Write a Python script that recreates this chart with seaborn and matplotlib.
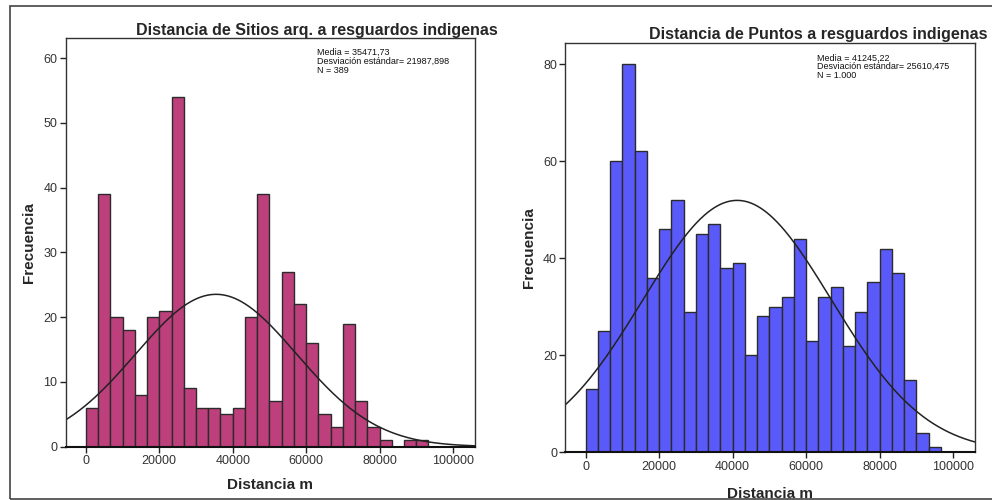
import numpy as np
import pandas as pd
import matplotlib
matplotlib.use("Agg")
import matplotlib.pyplot as plt
import seaborn as sns

sns.set_theme(style="ticks")
plt.rcParams['font.family'] = ['Liberation Sans', 'DejaVu Sans']

# Histogram bin width (m) shared by both panels
bin_width = 100000 / 30

# Sites: frequency per distance bin, starting at 0 m
sitios_counts = [6, 39, 20, 18, 8, 20, 21, 54, 9, 6, 6, 5, 6, 20, 39,
                 7, 27, 22, 16, 5, 3, 19, 7, 3, 1, 0, 1, 1]
sitios_mean = 35471.73
sitios_std = 21987.898
sitios_n = 389

# Random points: frequency per distance bin, starting at 0 m
puntos_counts = [13, 25, 60, 80, 62, 36, 46, 52, 29, 45, 47, 38, 39, 20, 28,
                 30, 32, 44, 23, 32, 34, 22, 29, 35, 42, 37, 15, 4, 1]
puntos_mean = 41245.22
puntos_std = 25610.475
puntos_n = 1000

titles = ["Distancia de Sitios arq. a resguardos indigenas",
          "Distancia de Puntos a resguardos indigenas"]
stats_text = ["Media = 35471,73\nDesviación estándar= 21987,898\nN = 389",
              "Media = 41245,22\nDesviación estándar= 25610,475\nN = 1.000"]
x_ticks = [0, 20000, 40000, 60000, 80000, 100000]
y_ticks = [[0, 10, 20, 30, 40, 50, 60], [0, 20, 40, 60, 80]]
y_tops = [63.1, 84.3]
colors = ["#BD3F7C", "#5A5AFA"]

fig = plt.figure(figsize=(9.92, 5.0), dpi=100)

# Outer frame around the whole figure
frame = plt.Rectangle((0.010, 0.003), 1.2, 0.985, transform=fig.transFigure,
                      fill=False, edgecolor="#444444", linewidth=1.2)
fig.patches.append(frame)

axes = [fig.add_axes([0.0662, 0.1066, 0.4126, 0.8174]),
        fig.add_axes([0.5700, 0.0954, 0.4129, 0.8180])]

panels = [(sitios_counts, sitios_mean, sitios_std, sitios_n),
          (puntos_counts, puntos_mean, puntos_std, puntos_n)]

for i, (ax, (counts, mean, std, n)) in enumerate(zip(axes, panels)):
    edges = [k * bin_width for k in range(len(counts) + 1)]
    centers = [(edges[k] + edges[k + 1]) / 2 for k in range(len(counts))]
    df = pd.DataFrame({"dist": centers, "freq": counts})
    sns.histplot(data=df, x="dist", weights="freq", bins=edges, ax=ax,
                 color=colors[i], alpha=1.0, edgecolor="#2b2b2b",
                 linewidth=1.0)

    # Fitted normal curve scaled to frequency
    xs = np.linspace(-6000, 106500, 400)
    ys = n * bin_width / (std * np.sqrt(2 * np.pi)) * np.exp(-0.5 * ((xs - mean) / std) ** 2)
    sns.lineplot(x=xs, y=ys, ax=ax, color="#222222", linewidth=1.1)

    ax.set_xlim(-5500, 106000)
    ax.set_ylim(0, y_tops[i])
    ax.set_xticks(x_ticks)
    ax.set_xticklabels([str(t) for t in x_ticks])
    ax.set_yticks(y_ticks[i])
    ax.tick_params(axis="both", direction="out", length=4, width=1,
                   color="#222222", labelsize=9, labelcolor="#333333",
                   bottom=True, left=True, top=False, right=False, pad=2)
    for sp in ax.spines.values():
        sp.set_visible(True)
        sp.set_color("#333333")
        sp.set_linewidth(1.0)
    ax.spines["bottom"].set_color("#111111")
    ax.spines["bottom"].set_linewidth(1.5)

    ax.set_xlabel("Distancia m", fontsize=11, fontweight="bold",
                  labelpad=8 if i == 0 else 10)
    ax.set_ylabel("Frecuencia", fontsize=11, fontweight="bold", labelpad=5)
    ax.text(0.615, 0.975, stats_text[i],
            transform=ax.transAxes, fontsize=6.5, va="top", ha="left",
            linespacing=0.95, color="#111111")

fig.text(0.3195, 0.94, titles[0], fontsize=11.5, fontweight="bold",
         ha="center", va="center")
fig.text(0.8245, 0.932, titles[1], fontsize=11.5, fontweight="bold",
         ha="center", va="center")

fig.savefig("out.png", dpi=100)
